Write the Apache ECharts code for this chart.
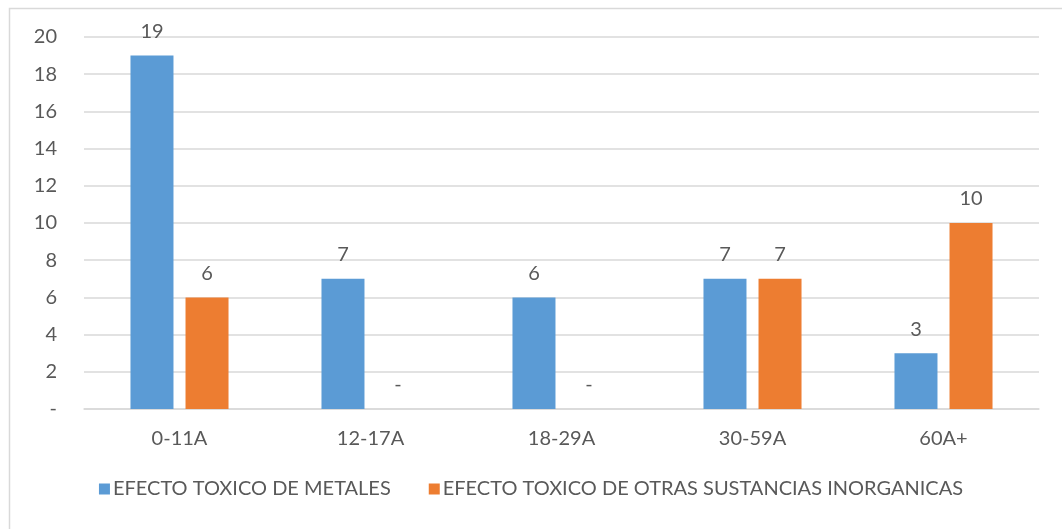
<!DOCTYPE html>
<html>
<head>
<meta charset="utf-8">
<script src="https://cdn.jsdelivr.net/npm/echarts@6/dist/echarts.min.js"></script>
<style>
  html, body { margin: 0; padding: 0; background: #fff; }
  #chart { width: 1062px; height: 529px; }
</style>
</head>
<body>
<div id="chart"></div>
<script>
// Age groups and counts per toxic-effect group
const categories = ['0-11A', '12-17A', '18-29A', '30-59A', '60A+'];
const metales = [19, 7, 6, 7, 3];
const otrasInorganicas = [6, 0, 0, 7, 10];
const seriesNames = ['EFECTO TOXICO DE METALES', 'EFECTO TOXICO DE OTRAS SUSTANCIAS INORGANICAS'];

const FONT = 'Lato, "Open Sans", sans-serif';
const TEXT = '#595959';
const dashZero = v => (v === 0 ? '-' : String(v));

const chart = echarts.init(document.getElementById('chart'), null, { renderer: 'canvas' });

const labelStyle = {
  show: true,
  position: 'top',
  distance: 14,
  color: TEXT,
  fontFamily: FONT,
  fontSize: 20,
  formatter: p => dashZero(p.value)
};

chart.setOption({
  animation: false,
  backgroundColor: '#ffffff',
  graphic: [{
    type: 'rect',
    shape: { x: 9.5, y: 8.5, width: 1100, height: 600 },
    style: { fill: 'none', stroke: '#D9D9D9', lineWidth: 1.5 },
    silent: true
  }],
  grid: { left: 84, right: 23, top: 37, bottom: 120, containLabel: false },
  legend: {
    bottom: 25,
    left: 'center',
    itemWidth: 11,
    itemHeight: 11,
    itemGap: 38,
    icon: 'rect',
    textStyle: { color: TEXT, fontFamily: FONT, fontSize: 20, padding: [0, 0, 0, -2] },
    data: seriesNames
  },
  xAxis: {
    type: 'category',
    data: categories,
    axisLine: { show: true, lineStyle: { color: '#D9D9D9', width: 1.5 } },
    axisTick: { show: false },
    axisLabel: { color: TEXT, fontFamily: FONT, fontSize: 20, margin: 20 }
  },
  yAxis: {
    type: 'value',
    min: 0,
    max: 20,
    interval: 2,
    axisLine: { show: false },
    axisTick: { show: false },
    splitLine: { lineStyle: { color: '#D9D9D9', width: 1.5 } },
    axisLabel: { color: TEXT, fontFamily: FONT, fontSize: 20, margin: 27, formatter: dashZero }
  },
  series: [
    {
      name: seriesNames[0],
      type: 'bar',
      data: metales,
      barWidth: 43,
      barGap: '28%',
      itemStyle: { color: '#5B9BD5' },
      label: labelStyle
    },
    {
      name: seriesNames[1],
      type: 'bar',
      data: otrasInorganicas,
      barWidth: 43,
      barGap: '28%',
      itemStyle: { color: '#ED7D31' },
      label: labelStyle
    }
  ]
});
</script>
</body>
</html>
